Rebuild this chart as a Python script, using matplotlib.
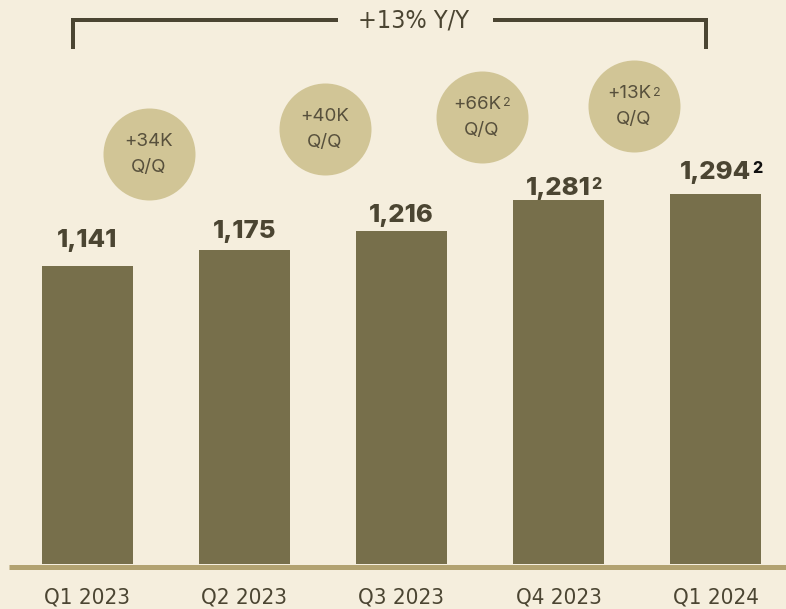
import matplotlib
matplotlib.use("Agg")
import matplotlib.pyplot as plt

# ---- data ----
quarters = ["Q1 2023", "Q2 2023", "Q3 2023", "Q4 2023", "Q1 2024"]
values = [1141, 1175, 1216, 1281, 1294]
value_labels = ["1,141", "1,175", "1,216", "1,281", "1,294"]
value_sup = ["", "", "", "2", "2"]
qoq_labels = ["+34K", "+40K", "+66K", "+13K"]
qoq_sup = ["", "", "2", "2"]
yoy_label = "+13% Y/Y"

# ---- styles ----
BG = "#f5eedd"
BAR = "#776f4b"
BUBBLE = "#d1c596"
DARK = "#4b4532"
BUBTXT = "#57503c"
BASE = "#b2a271"
W, H = 786, 609

fig = plt.figure(figsize=(W / 100, H / 100), dpi=100, facecolor=BG)
ax = fig.add_axes([0, 45 / H, 1, 564 / H])
ax.set_facecolor(BG)
ax.set_xlim(-0.557, 4.449)
ax.set_ylim(505, 1708.6)
ax.axis("off")

x = list(range(len(values)))
ax.bar(x, values, width=0.58, color=BAR, zorder=2)

bold_font = dict(family=["Inter", "DejaVu Sans"], weight="heavy")
narrow = dict(family=["DejaVu Sans"], stretch="condensed")

# value labels above bars
label_gap = [19, 12, 9, 5, 15]  # px between bar top and digit baseline
for i, (v, lab, sup) in enumerate(zip(values, value_labels, value_sup)):
    t = ax.annotate(lab, xy=(i, v), xytext=(0, label_gap[i] * 0.72),
                    textcoords="offset points", ha="center", va="baseline",
                    fontsize=18.5, color=DARK, **bold_font)
    if sup:
        ax.annotate(sup, xy=(1, 1), xycoords=t, xytext=(0.5, 0),
                    textcoords="offset points", ha="left", va="top",
                    fontsize=11.5, color=(DARK if i < 4 else "#111111"),
                    **bold_font)

# Q/Q bubbles (layout positions)
bub_x = [0.39, 1.51, 2.51, 3.48]
bub_y = [1380, 1433, 1459, 1482]
ax.scatter(bub_x, bub_y, s=(2 * 46 * 0.72) ** 2, color=BUBBLE, zorder=3,
           linewidths=0)
for bx, by, lab, sup in zip(bub_x, bub_y, qoq_labels, qoq_sup):
    off = -3 if sup else 0
    t = ax.annotate(lab, xy=(bx, by), xytext=(off, 9),
                    textcoords="offset points", ha="center", va="center",
                    fontsize=13.5, color=BUBTXT,
                    family=["Inter", "DejaVu Sans"], zorder=4)
    if sup:
        ax.annotate(sup, xy=(1, 1), xycoords=t, xytext=(0.8, -1),
                    textcoords="offset points", ha="left", va="top",
                    fontsize=9, color=BUBTXT,
                    family=["Inter", "DejaVu Sans"], zorder=4)
    ax.annotate("Q/Q", xy=(bx, by), xytext=(0, -9.5),
                textcoords="offset points", ha="center", va="center",
                fontsize=13.5, color=BUBTXT,
                family=["Inter", "DejaVu Sans"], zorder=4)

# x labels
for i, q in enumerate(quarters):
    ax.annotate(q, xy=(i, 505), xytext=(0, -34 * 0.72), textcoords="offset points",
                ha="center", va="center", fontsize=16, color=DARK,
                annotation_clip=False, **narrow)

# baseline
def fx(px):
    return px / W

def fy(py):
    return 1 - py / H

fig.add_artist(plt.Line2D([fx(9), fx(786)], [fy(566.5), fy(566.5)],
                          color=BASE, lw=5 * 0.72, solid_capstyle="butt"))

# Y/Y bracket
lw = 4 * 0.72
fig.add_artist(plt.Line2D([fx(73), fx(73), fx(338)], [fy(49), fy(20), fy(20)],
                          color=DARK, lw=lw, solid_joinstyle="miter",
                          solid_capstyle="butt"))
fig.add_artist(plt.Line2D([fx(493), fx(706), fx(706)], [fy(20), fy(20), fy(49)],
                          color=DARK, lw=lw, solid_joinstyle="miter",
                          solid_capstyle="butt"))
fig.text(fx(413), fy(20), yoy_label, ha="center", va="center", fontsize=18,
         color=DARK, **narrow)

fig.savefig("out.png", dpi=100, facecolor=BG)
